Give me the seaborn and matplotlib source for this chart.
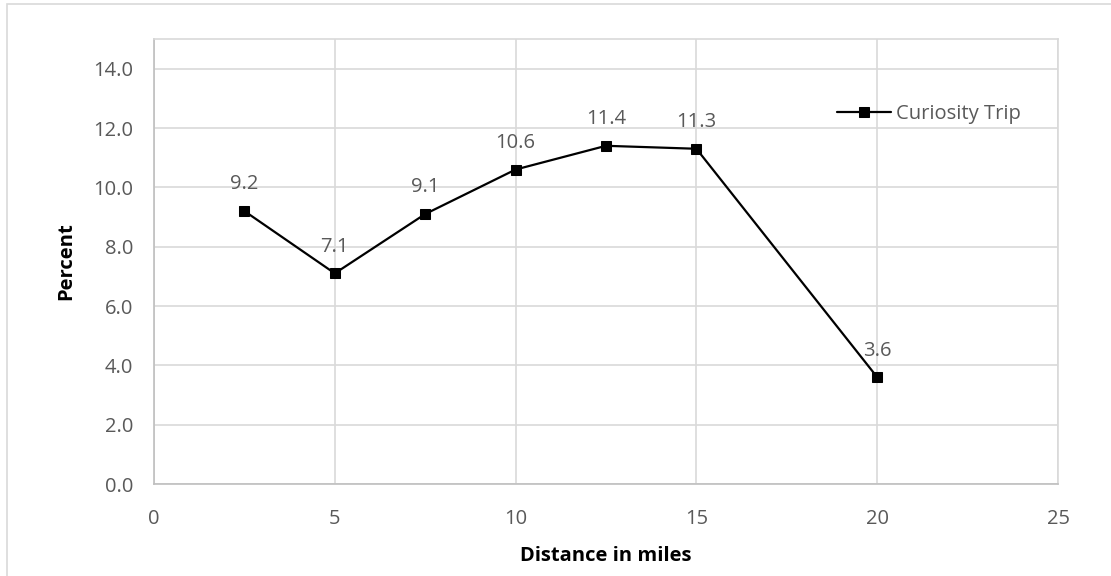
import matplotlib
matplotlib.use("Agg")
import matplotlib.pyplot as plt
import seaborn as sns
import pandas as pd
from matplotlib.patches import Rectangle

# Share of curiosity trips by distance band
distance_miles = [2.5, 5, 7.5, 10, 12.5, 15, 20]
percent = [9.2, 7.1, 9.1, 10.6, 11.4, 11.3, 3.6]
series_name = "Curiosity Trip"
x_ticks = [0, 5, 10, 15, 20, 25]
y_ticks = [0, 2, 4, 6, 8, 10, 12, 14]

sns.set_theme(style="white")
plt.rcParams["font.family"] = ["Open Sans", "DejaVu Sans"]

text_color = "#595959"
grid_color = "#d9d9d9"
fs = 14.5

df = pd.DataFrame({"distance": distance_miles, "percent": percent, "series": series_name})

fig = plt.figure(figsize=(11.11, 5.76), dpi=100)
ax = fig.add_axes([154 / 1111, 1 - 484 / 576, (1058 - 154) / 1111, (484 - 39) / 576])

sns.lineplot(data=df, x="distance", y="percent", hue="series", palette=["black"],
             marker="s", markersize=7.5, markeredgecolor="black", linewidth=1.6, ax=ax)

for xv, yv in zip(distance_miles, percent):
    ax.annotate(f"{yv:.1f}", (xv, yv), xytext=(0, 12), textcoords="offset points",
                ha="center", va="bottom", fontsize=fs, color=text_color)

ax.set_xlim(0, 25)
ax.set_ylim(0, 15)
ax.set_xticks(x_ticks)
ax.set_yticks(y_ticks)
ax.set_yticklabels([f"{v:.1f}" for v in y_ticks])
ax.tick_params(axis="y", labelsize=fs, colors=text_color, length=0, pad=15)
ax.tick_params(axis="x", labelsize=fs, colors=text_color, length=0, pad=18)
ax.grid(True, color=grid_color, linewidth=1.2)
ax.set_axisbelow(True)
for side, sp in ax.spines.items():
    sp.set_color(grid_color)
    sp.set_linewidth(1.2)
ax.spines["bottom"].set_color("#bfbfbf")
ax.spines["left"].set_color("#bfbfbf")

ax.set_xlabel("Distance in miles", fontsize=fs, fontweight="bold", color="black", labelpad=12)
ax.set_ylabel("Percent", fontsize=fs, fontweight="bold", color="black", labelpad=12)

handles, labels = ax.get_legend_handles_labels()
ax.legend(handles, labels, loc="center left", bbox_to_anchor=(0.755, 0.831), frameon=False,
          fontsize=fs, labelcolor=text_color, handlelength=2.7, handletextpad=0.25,
          borderpad=0, borderaxespad=0)

fig.patches.append(Rectangle((7 / 1111, -0.1), 1.2, 1.1 - 4 / 576,
                             transform=fig.transFigure, fill=False,
                             edgecolor=grid_color, linewidth=1.2))

fig.savefig("out.png", dpi=100, facecolor="white")
